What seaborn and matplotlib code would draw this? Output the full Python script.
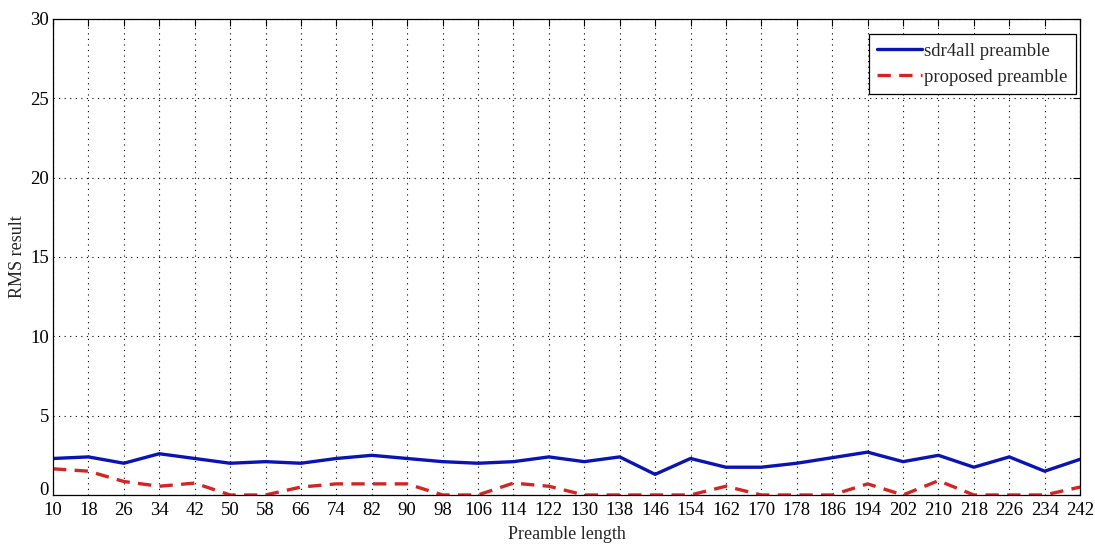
import matplotlib
matplotlib.use("Agg")
import matplotlib.pyplot as plt
import matplotlib.transforms as mtransforms
import seaborn as sns
import pandas as pd
import numpy as np

preamble_length = list(range(10, 243, 8))
sdr4all = [2.3, 2.4, 2.0, 2.6, 2.3, 2.0, 2.1, 2.0, 2.3, 2.5,
           2.3, 2.1, 2.0, 2.1, 2.4, 2.1, 2.4, 1.3, 2.3, 1.75,
           1.75, 2.0, 2.35, 2.7, 2.1, 2.5, 1.75, 2.4, 1.5, 2.25]
proposed = [1.65, 1.5, 0.85, 0.55, 0.75, 0.0, 0.0, 0.5, 0.7, 0.7,
            0.7, 0.0, 0.0, 0.75, 0.55, 0.0, 0.0, 0.0, 0.0, 0.55,
            0.0, 0.0, 0.0, 0.7, 0.0, 0.9, 0.0, 0.0, 0.0, 0.5]
y_ticks = [0, 5, 10, 15, 20, 25, 30]

sns.set_style("white")
plt.rcParams['font.family'] = ['Liberation Serif', 'DejaVu Serif']

fig = plt.figure(figsize=(10.95, 5.49), dpi=100)
ax = fig.add_axes([0.0484, 0.0984, 0.938, 0.867])

df = pd.DataFrame({"x": preamble_length, "sdr4all": sdr4all, "proposed": proposed})
sns.lineplot(data=df, x="x", y="sdr4all", ax=ax, color="#0a14b4", lw=2.4,
             label="sdr4all preamble")
sns.lineplot(data=df, x="x", y="proposed", ax=ax, color="#d42424", lw=2.4,
             linestyle=(0, (4, 2.5)), label="proposed preamble")

ax.set_xlim(10, 242)
ax.set_ylim(0, 30)
ax.set_xticks(preamble_length)
ax.set_yticks(y_ticks)
ax.tick_params(direction="in", length=5, width=0.8, top=True, right=True,
               labelsize=13.5, colors="black")
ax.tick_params(axis="x", pad=5)
ax.tick_params(axis="y", pad=3)
for s in ax.spines.values():
    s.set_color("black")
    s.set_linewidth(0.9)
ax.grid(True, linestyle=(0, (1, 4)), color="black", lw=0.8)
ax.set_xlabel("Preamble length", fontsize=13, labelpad=5)
ax.set_ylabel("RMS result", fontsize=13, labelpad=3)

# nudge the "0" y label up slightly so it does not collide with "10"
fig.canvas.draw()
lbl0 = ax.get_yticklabels()[0]
lbl0.set_transform(lbl0.get_transform() +
                   mtransforms.ScaledTranslation(0, 5 / 72, fig.dpi_scale_trans))

leg = ax.legend(loc="upper right", bbox_to_anchor=(0.996, 0.9685),
                fontsize=13.5, frameon=True, fancybox=False,
                edgecolor="black", framealpha=1, borderaxespad=0,
                handlelength=2.4, handletextpad=0.1, labelspacing=0.5,
                borderpad=0.45)
leg.get_frame().set_linewidth(0.9)

fig.savefig("out.png", dpi=100)
